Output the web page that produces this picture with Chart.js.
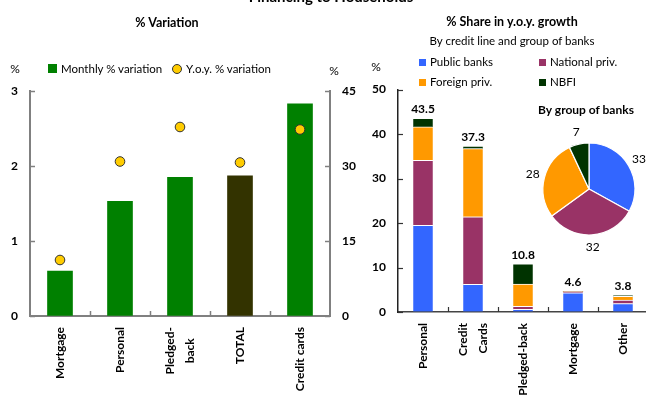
<!DOCTYPE html>
<html>
<head>
<meta charset="utf-8">
<script src="https://cdn.jsdelivr.net/npm/chart.js@4/dist/chart.umd.min.js"></script>
<style>
  html, body { margin: 0; padding: 0; width: 646px; height: 398px; overflow: hidden; background: #fff;
    font-family: Lato, "Open Sans", "DejaVu Sans", sans-serif; color: #000; }
  canvas { position: absolute; left: 0; top: 0; }
  .t { position: absolute; white-space: nowrap; transform: translate(-50%, -50%); line-height: 1; }
  .l { position: absolute; white-space: nowrap; transform: translateY(-50%); line-height: 1; font-size: 11.5px; }
  .b { font-weight: bold; }
  .sq { position: absolute; }
</style>
</head>
<body>
<canvas id="varChart" width="646" height="398"></canvas>
<canvas id="shareChart" width="650" height="398"></canvas>
<canvas id="groupChart" width="646" height="398"></canvas>

<div class="t b" style="left:331px;top:-4px;font-size:15px">Financing to Households</div>

<div class="t b" style="left:167px;top:23px;font-size:12.5px">% Variation</div>
<div class="t" style="left:15px;top:69px;font-size:12px">%</div>
<div class="t" style="left:334px;top:71px;font-size:12px">%</div>
<div class="sq" style="left:48px;top:64px;width:9px;height:9px;background:#008000"></div>
<div class="l" style="left:61px;top:69px">Monthly % variation</div>
<div class="sq" style="left:172px;top:64px;width:8px;height:8px;border-radius:50%;background:#FFCC00;border:1px solid #333"></div>
<div class="l" style="left:186px;top:69px">Y.o.y. % variation</div>

<div class="t b" style="left:512px;top:22px;font-size:12.5px">% Share in y.o.y. growth</div>
<div class="t" style="left:512px;top:41px;font-size:11.5px">By credit line and group of banks</div>
<div class="t" style="left:376px;top:67px;font-size:12px">%</div>
<div class="sq" style="left:419px;top:59px;width:7px;height:7px;background:#3366FF"></div>
<div class="l" style="left:430px;top:62px">Public banks</div>
<div class="sq" style="left:539px;top:59px;width:7px;height:7px;background:#993366"></div>
<div class="l" style="left:550px;top:62px">National priv.</div>
<div class="sq" style="left:419px;top:79px;width:7px;height:7px;background:#FF9900"></div>
<div class="l" style="left:430px;top:82px">Foreign priv.</div>
<div class="sq" style="left:539px;top:79px;width:7px;height:7px;background:#003300"></div>
<div class="l" style="left:550px;top:82px">NBFI</div>

<div class="t b" style="left:586px;top:110px;font-size:12px">By group of banks</div>

<script>
// ---- % variation by credit line ----
const varCategories = ['Mortgage', 'Personal', ['Pledged-', 'back'], 'TOTAL', 'Credit cards'];
const monthlyVar = [0.6, 1.53, 1.85, 1.87, 2.83];
const yoyVar = [11.2, 30.9, 37.8, 30.7, 37.3];
const monthlyTicks = [0, 1, 2, 3];
const yoyTicks = [0, 15, 30, 45];

// ---- share in y.o.y. growth, stacked by group of banks ----
const creditLines = ['Personal', ['Credit', 'Cards'], 'Pledged-back', 'Mortgage', 'Other'];
const publicBanks = [19.5, 6.2, 0.6, 4.3, 1.9];
const nationalPriv = [14.6, 15.2, 0.7, 0.3, 0.8];
const foreignPriv = [7.5, 15.3, 5.0, 0, 0.8];
const nbfi = [1.9, 0.6, 4.5, 0, 0.3];
const shareTicks = [0, 10, 20, 30, 40, 50];

// ---- share by group of banks ----
const bankGroups = ['Public banks', 'National priv.', 'Foreign priv.', 'NBFI'];
const groupShares = [33, 32, 28, 7];

const GREEN = '#008000', TOTAL_COLOR = '#333300', YELLOW = '#FFCC00';
const BLUE = '#3366FF', MAROON = '#993366', ORANGE = '#FF9900', DKGREEN = '#003300';
const FONT = 'Lato, "Open Sans", sans-serif';

Chart.defaults.font.family = FONT;
Chart.defaults.color = '#000';

// short tick marks pointing into the plot area
const inwardTicks = {
  id: 'inwardTicks',
  afterDatasetsDraw(chart, args, opts) {
    const ctx = chart.ctx;
    ctx.save();
    ctx.strokeStyle = opts.color;
    ctx.lineWidth = opts.width;
    Object.values(chart.scales).forEach(s => {
      if (s.axis === 'y') {
        const x0 = s.position === 'left' ? s.right : s.left;
        const dir = s.position === 'left' ? 1 : -1;
        s.ticks.forEach((t, i) => {
          const y = Math.round(s.getPixelForTick(i)) + 0.5;
          ctx.beginPath(); ctx.moveTo(x0, y); ctx.lineTo(x0 + dir * opts.length, y); ctx.stroke();
        });
      } else {
        for (let i = 1; i < s.ticks.length; i++) {
          const x = Math.round((s.getPixelForTick(i - 1) + s.getPixelForTick(i)) / 2) + 0.5;
          ctx.beginPath(); ctx.moveTo(x, s.top); ctx.lineTo(x, s.top - opts.length); ctx.stroke();
        }
      }
    });
    ctx.restore();
  }
};

// vertical category labels under the x axis
const verticalLabels = {
  id: 'verticalLabels',
  afterDraw(chart, args, opts) {
    const ctx = chart.ctx, s = chart.scales.x;
    ctx.save();
    ctx.font = 'bold 12px ' + FONT;
    ctx.fillStyle = '#000';
    ctx.textBaseline = 'middle';
    chart.data.labels.forEach((lab, i) => {
      const lines = Array.isArray(lab) ? lab : [lab];
      const px = s.getPixelForValue(i);
      const widest = Math.max(...lines.map(l => ctx.measureText(l).width));
      ctx.save();
      ctx.translate(px, s.top + opts.offset);
      ctx.rotate(-Math.PI / 2);
      lines.forEach((l, k) => {
        const dy = (k - (lines.length - 1) / 2) * opts.lineHeight;
        if (opts.centerLines && lines.length > 1) {
          ctx.textAlign = 'center';
          ctx.fillText(l, -widest / 2, dy);
        } else {
          ctx.textAlign = 'right';
          ctx.fillText(l, 0, dy);
        }
      });
      ctx.restore();
    });
    ctx.restore();
  }
};

// totals above the stacked bars
const stackTotals = {
  id: 'stackTotals',
  afterDatasetsDraw(chart) {
    const ctx = chart.ctx, x = chart.scales.x, y = chart.scales.y;
    ctx.save();
    ctx.font = 'bold 12px ' + FONT;
    ctx.fillStyle = '#000';
    ctx.textAlign = 'center';
    ctx.textBaseline = 'middle';
    chart.data.labels.forEach((lab, i) => {
      const total = chart.data.datasets.reduce((a, d) => a + d.data[i], 0);
      ctx.fillText(total.toFixed(1), x.getPixelForValue(i), y.getPixelForValue(total) - 9);
    });
    ctx.restore();
  }
};

// value labels outside the pie slices
const sliceLabels = {
  id: 'sliceLabels',
  afterDatasetsDraw(chart) {
    const ctx = chart.ctx;
    const meta = chart.getDatasetMeta(0);
    ctx.save();
    ctx.font = '12px ' + FONT;
    ctx.fillStyle = '#000';
    ctx.textAlign = 'center';
    ctx.textBaseline = 'middle';
    meta.data.forEach((arc, i) => {
      const mid = (arc.startAngle + arc.endAngle) / 2;
      const r = arc.outerRadius + 12;
      ctx.fillText(String(chart.data.datasets[0].data[i]), arc.x + Math.cos(mid) * r, arc.y + Math.sin(mid) * r);
    });
    ctx.restore();
  }
};

const tickFont = { family: FONT, weight: 'bold', size: 12 };

new Chart(document.getElementById('varChart'), {
  type: 'bar',
  data: {
    labels: varCategories,
    datasets: [
      {
        type: 'line', label: 'Y.o.y. % variation', data: yoyVar, yAxisID: 'y2',
        showLine: false, pointRadius: 4.8, pointBackgroundColor: YELLOW,
        pointBorderColor: '#333', pointBorderWidth: 1, order: 0
      },
      {
        type: 'bar', label: 'Monthly % variation', data: monthlyVar, yAxisID: 'y',
        backgroundColor: varCategories.map(c => c === 'TOTAL' ? TOTAL_COLOR : GREEN),
        barThickness: 25, order: 1
      }
    ]
  },
  options: {
    responsive: false, animation: false,
    layout: { autoPadding: false, padding: { left: 0, top: 91, right: 286, bottom: 0 } },
    plugins: {
      legend: { display: false }, tooltip: { enabled: false },
      inwardTicks: { color: '#808080', width: 1.5, length: 5 },
      verticalLabels: { offset: 11, lineHeight: 20, centerLines: true }
    },
    scales: {
      x: {
        offset: true,
        grid: { display: true, drawOnChartArea: false, drawTicks: false },
        border: { color: '#808080', width: 2 },
        ticks: { display: false },
        afterFit: s => { s.height = 82; }
      },
      y: {
        position: 'left', min: 0, max: 3,
        afterBuildTicks: s => { s.ticks = monthlyTicks.map(v => ({ value: v })); },
        grid: { display: true, drawOnChartArea: false, drawTicks: false },
        border: { color: '#808080', width: 2 },
        ticks: { font: tickFont, padding: 12 },
        afterFit: s => { s.width = 30; }
      },
      y2: {
        position: 'right', min: 0, max: 45,
        afterBuildTicks: s => { s.ticks = yoyTicks.map(v => ({ value: v })); },
        grid: { display: true, drawOnChartArea: false, drawTicks: false },
        border: { color: '#808080', width: 2 },
        ticks: { font: tickFont, padding: 12 },
        afterFit: s => { s.width = 30; }
      }
    }
  },
  plugins: [inwardTicks, verticalLabels]
});

const stackStyle = { barThickness: 19.5, borderColor: '#fff', borderWidth: { top: 1, left: 0, right: 0, bottom: 0 }, borderSkipped: false };

new Chart(document.getElementById('shareChart'), {
  type: 'bar',
  data: {
    labels: creditLines,
    datasets: [
      Object.assign({ label: bankGroups[0], data: publicBanks, backgroundColor: BLUE }, stackStyle),
      Object.assign({ label: bankGroups[1], data: nationalPriv, backgroundColor: MAROON }, stackStyle),
      Object.assign({ label: bankGroups[2], data: foreignPriv, backgroundColor: ORANGE }, stackStyle),
      Object.assign({ label: bankGroups[3], data: nbfi, backgroundColor: DKGREEN }, stackStyle)
    ]
  },
  options: {
    responsive: false, animation: false,
    layout: { autoPadding: false, padding: { left: 358, top: 89.5, right: 2, bottom: 0 } },
    plugins: {
      legend: { display: false }, tooltip: { enabled: false },
      inwardTicks: { color: '#333', width: 1.2, length: 5 },
      verticalLabels: { offset: 11, lineHeight: 20, centerLines: false }
    },
    scales: {
      x: {
        stacked: true, offset: true,
        grid: { display: true, drawOnChartArea: false, drawTicks: false },
        border: { color: '#444', width: 1.5 },
        ticks: { display: false },
        afterFit: s => { s.height = 86; }
      },
      y: {
        stacked: true, min: 0, max: 50,
        afterBuildTicks: s => { s.ticks = shareTicks.map(v => ({ value: v })); },
        grid: { display: true, drawOnChartArea: false, drawTicks: false },
        border: { color: '#222', width: 1.5 },
        ticks: { font: tickFont, padding: 12 },
        afterFit: s => { s.width = 40; }
      }
    }
  },
  plugins: [inwardTicks, verticalLabels, stackTotals]
});

new Chart(document.getElementById('groupChart'), {
  type: 'pie',
  data: {
    labels: bankGroups,
    datasets: [{
      data: groupShares,
      backgroundColor: [BLUE, MAROON, ORANGE, DKGREEN],
      borderColor: '#fff', borderWidth: 1.2
    }]
  },
  options: {
    responsive: false, animation: false, radius: 46,
    layout: { padding: { left: 543, right: 11, top: 143, bottom: 163 } },
    plugins: { legend: { display: false }, tooltip: { enabled: false } }
  },
  plugins: [sliceLabels]
});
</script>
</body>
</html>
